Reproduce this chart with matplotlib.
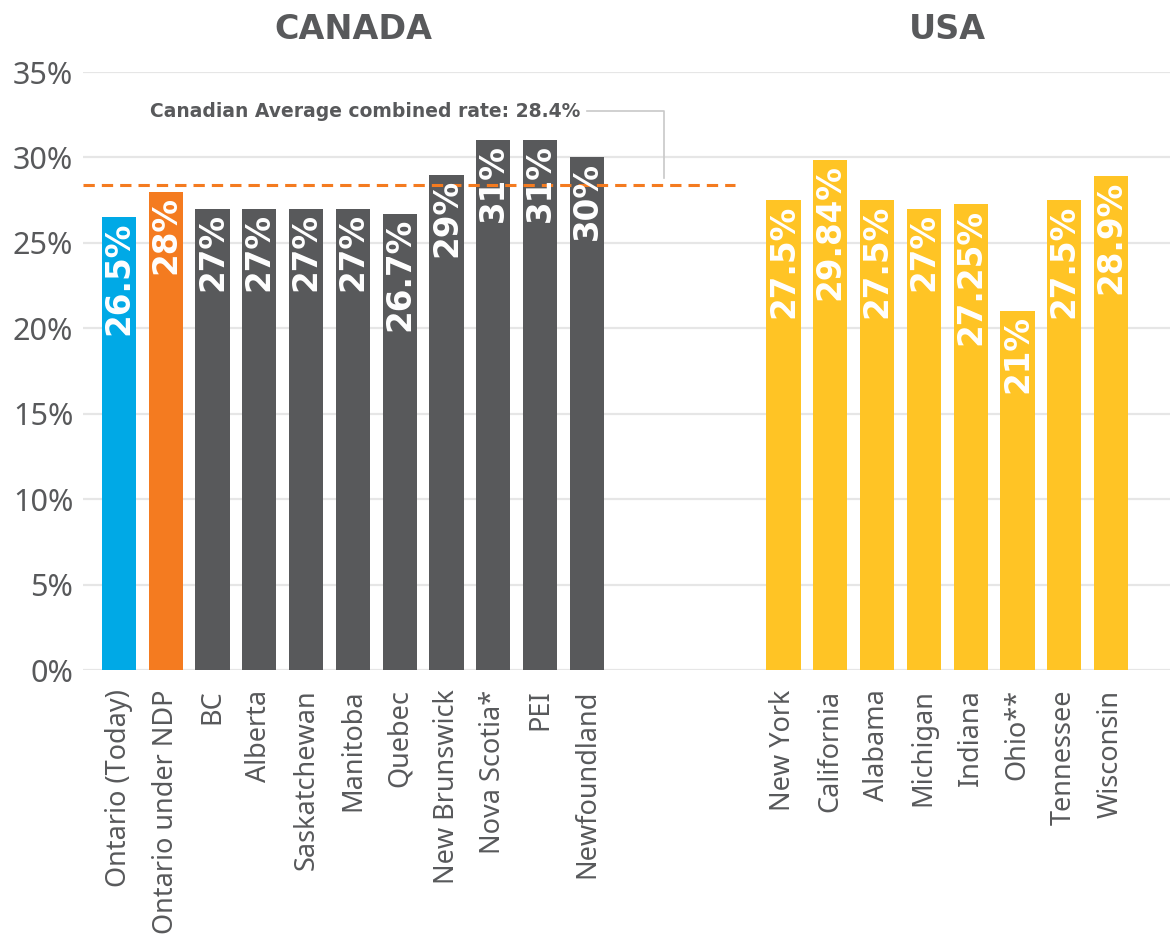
import matplotlib
matplotlib.use("Agg")
import matplotlib.pyplot as plt
import numpy as np

canada_labels = ["Ontario (Today)", "Ontario under NDP", "BC", "Alberta", "Saskatchewan",
                 "Manitoba", "Quebec", "New Brunswick", "Nova Scotia*", "PEI", "Newfoundland"]
canada_values = [26.5, 28, 27, 27, 27, 27, 26.7, 29, 31, 31, 30]
canada_text = ["26.5%", "28%", "27%", "27%", "27%", "27%", "26.7%", "29%", "31%", "31%", "30%"]

usa_labels = ["New York", "California", "Alabama", "Michigan", "Indiana", "Ohio**",
              "Tennessee", "Wisconsin"]
usa_values = [27.5, 29.84, 27.5, 27, 27.25, 21, 27.5, 28.9]
usa_text = ["27.5%", "29.84%", "27.5%", "27%", "27.25%", "21%", "27.5%", "28.9%"]

canadian_average = 28.4
avg_label = "Canadian Average combined rate: 28.4%"
y_ticks = [0, 5, 10, 15, 20, 25, 30, 35]

GRAY = "#58595B"
BLUE = "#00A9E6"
ORANGE = "#F47B20"
YELLOW = "#FFC425"
GRID = "#E6E6E6"

fig = plt.figure(figsize=(11.7, 9.4), dpi=100)
ax = fig.add_axes([0.0709, 0.2872, 0.9291, 0.6362])

x_can = np.arange(len(canada_values))
x_usa = np.arange(len(usa_values)) + 14.2
can_colors = [BLUE, ORANGE] + [GRAY] * (len(canada_values) - 2)

w = 0.73
ax.bar(x_can, canada_values, width=w, color=can_colors, zorder=3)
ax.bar(x_usa, usa_values, width=w, color=YELLOW, zorder=3)

ax.set_xlim(-0.77, 22.46)
ax.set_ylim(0, 35)
ax.set_yticks(y_ticks)
ax.set_yticklabels([f"{t}%" for t in y_ticks], family="Noto Sans", fontsize=22, color=GRAY)
ax.yaxis.grid(True, color=GRID, linewidth=1.6, zorder=0)
ax.set_axisbelow(True)
for s in ax.spines.values():
    s.set_visible(False)
ax.tick_params(axis="both", length=0)
ax.tick_params(axis="y", pad=7)
ax.tick_params(axis="x", pad=14)

ax.set_xticks(list(x_can) + list(x_usa))
ax.set_xticklabels(canada_labels + usa_labels, rotation=90, family="Noto Sans",
                   fontsize=19.5, color=GRAY, va="top", ha="center")

for xs, vals, txts in [(x_can, canada_values, canada_text), (x_usa, usa_values, usa_text)]:
    for x, v, t in zip(xs, vals, txts):
        ax.annotate(t, (x, v), xytext=(0, -3), textcoords="offset points",
                    rotation=90, ha="center", va="top", color="white",
                    fontsize=23.5, family="DejaVu Sans", fontweight="heavy", zorder=5)

# average line
ax.plot([-0.77, 13.16], [canadian_average, canadian_average], color=ORANGE,
        linewidth=2.2, dashes=(3.7, 2.3), zorder=4, solid_capstyle="butt",
        dash_capstyle="butt")
ax.plot([10.0, 11.65, 11.65], [32.7, 32.7, 28.8], color="#C8C8C8", linewidth=1.2, zorder=2)
ax.text(9.85, 32.7, avg_label, ha="right", va="center", fontsize=13.5,
        family="DejaVu Sans", fontweight="bold", color=GRAY)

# group titles
ax.text(np.mean(x_can), 37.5, "CANADA", ha="center", va="center", fontsize=24,
        family="DejaVu Sans", fontweight="heavy", color=GRAY)
ax.text(np.mean(x_usa), 37.5, "USA", ha="center", va="center", fontsize=24,
        family="DejaVu Sans", fontweight="heavy", color=GRAY)

fig.savefig("out.png", dpi=100)
